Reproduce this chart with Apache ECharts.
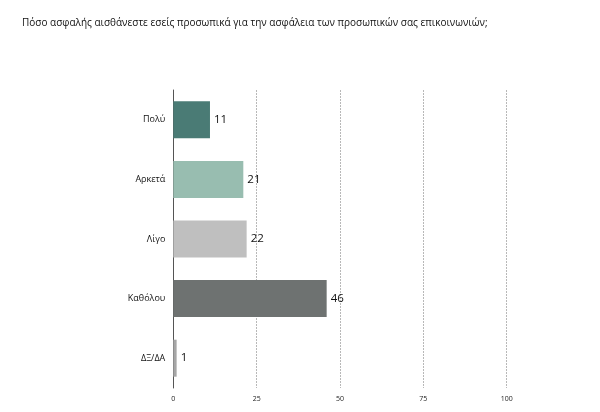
<!DOCTYPE html>
<html><head><meta charset="utf-8">
<script src="https://cdn.jsdelivr.net/npm/echarts@6/dist/echarts.min.js"></script>
<style>html,body{margin:0;padding:0;background:#fff}#c{width:600px;height:412px}</style>
</head><body><div id="c"></div>
<script>
const titleText = 'Πόσο ασφαλής αισθάνεστε εσείς προσωπικά για την ασφάλεια των προσωπικών σας επικοινωνιών;';
const categories = ['Πολύ', 'Αρκετά', 'Λίγο', 'Καθόλου', 'ΔΞ/ΔΑ'];
const values = [11, 21, 22, 46, 1];
const barColors = ['#4a7b75', '#98bdb0', '#bfbfbf', '#6e7271', '#a6a6a6'];
const xTicks = [0, 25, 50, 75, 100];

const chart = echarts.init(document.getElementById('c'));
chart.setOption({
  backgroundColor: '#ffffff',
  animation: false,
  title: {
    text: titleText, left: 17, top: 13,
    textStyle: { fontFamily: 'Open Sans, Noto Sans, sans-serif', fontSize: 10, fontWeight: 'normal', color: '#111' }
  },
  grid: { left: 173.3, right: 93.3, top: 90, bottom: 24, containLabel: false },
  xAxis: {
    type: 'value', min: xTicks[0], max: xTicks[xTicks.length - 1], interval: 25,
    axisLine: { show: false }, axisTick: { show: false },
    axisLabel: { fontSize: 7, color: '#222', margin: 7, fontFamily: 'Open Sans, sans-serif' },
    splitLine: { show: true, lineStyle: { type: [2, 1], color: '#b8b8b8', width: 1 } }
  },
  yAxis: {
    type: 'category', data: categories, inverse: true,
    axisLine: { show: true, lineStyle: { color: '#555', width: 1 } },
    axisTick: { show: false },
    axisLabel: { fontSize: 9, color: '#111', margin: 8, fontFamily: 'Open Sans, sans-serif' }
  },
  series: [{
    type: 'bar', barWidth: 37,
    data: values.map((v, i) => ({ value: v, itemStyle: { color: barColors[i] } })),
    label: { show: true, position: 'right', distance: 4, fontSize: 11.5, color: '#111', fontFamily: 'Open Sans, sans-serif' },
    z: 1
  }]
});
</script></body></html>
